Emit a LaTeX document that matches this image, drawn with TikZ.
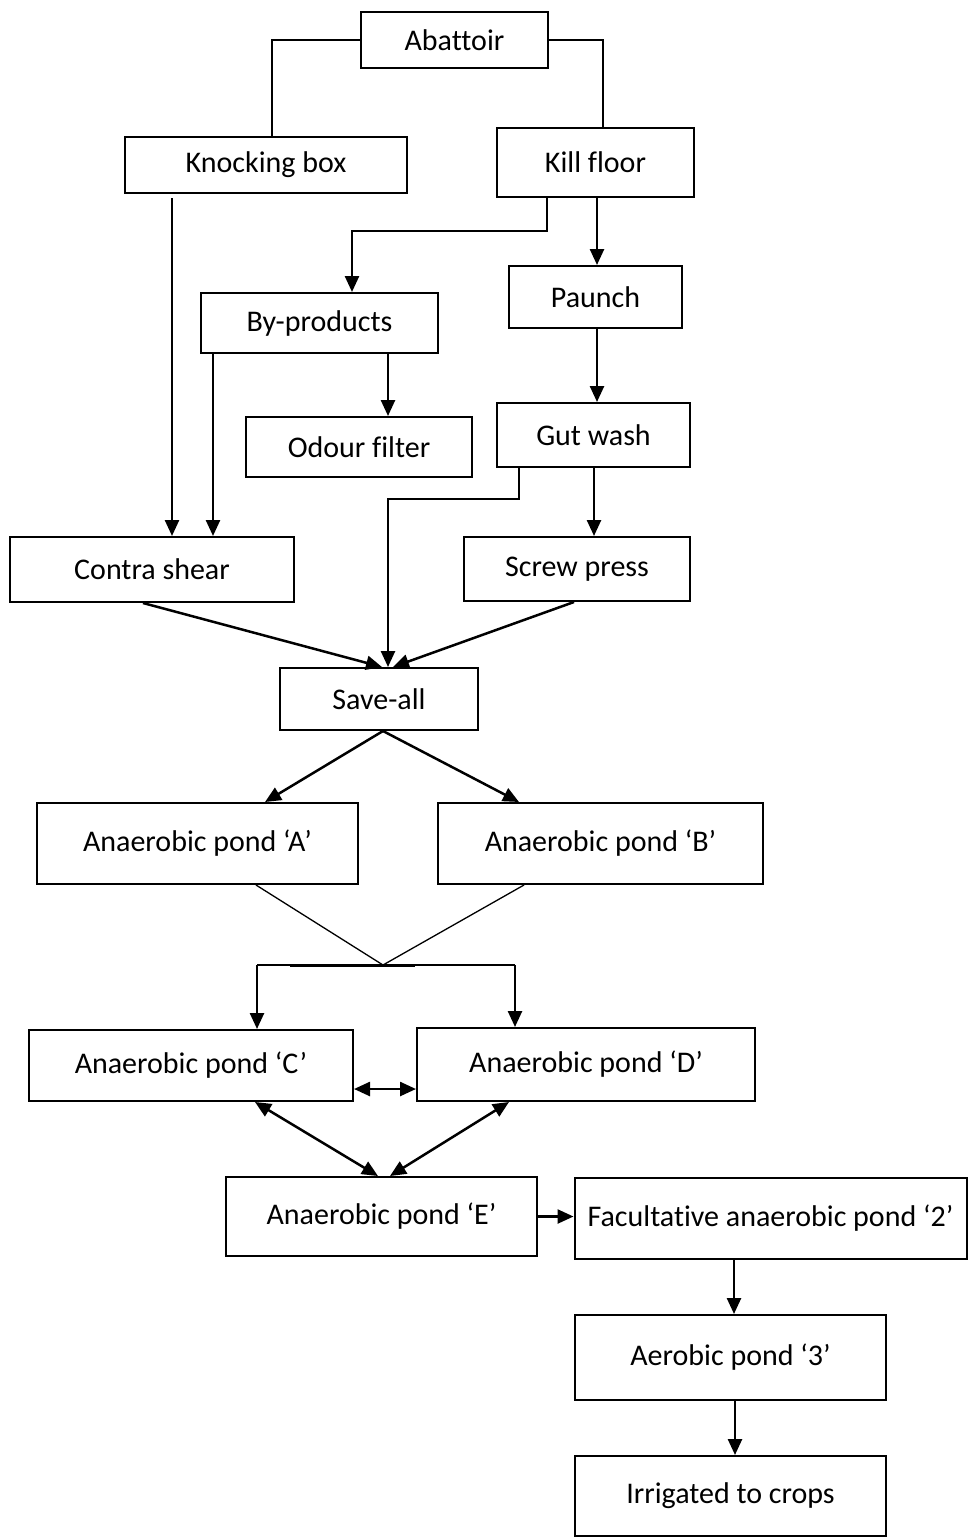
\documentclass[tikz,border=0pt]{standalone}
\usepackage{fontspec}
\setmainfont{Carlito}[Ligatures={NoCommon}]
\usetikzlibrary{arrows.meta}
\begin{document}
\begin{tikzpicture}[x=1pt,y=-1pt,
  box/.style={draw, line width=2pt, inner sep=0pt, font=\fontsize{30}{35}\selectfont, align=center},
  arr/.style={line width=2.5pt, -{Triangle[length=16pt,width=14pt]}},
  arrb/.style={line width=2.5pt, {Triangle[length=16pt,width=14pt]}-{Triangle[length=16pt,width=14pt]}},
  ln/.style={line width=2pt},
  thin/.style={line width=1.3pt}]
\useasboundingbox (0,0) rectangle (968,1537);
\node[box, minimum width=187pt, minimum height=56pt] (abattoir) at (454.5,40) {Abattoir};
\node[box, minimum width=282pt, minimum height=56pt] (knock) at (266,165) {Knocking box};
\node[box, minimum width=197pt, minimum height=69pt] (kill) at (595.5,162.5) {Kill floor};
\node[box, minimum width=173pt, minimum height=62pt] (paunch) at (595.5,297) {Paunch};
\node[box, minimum width=237pt, minimum height=60pt] (byprod) at (319.5,323) {By-products};
\node[box, minimum width=226pt, minimum height=60pt] (odour) at (359,447) {Odour filter};
\node[box, minimum width=193pt, minimum height=64pt] (gut) at (593.5,435) {Gut wash};
\node[box, minimum width=284pt, minimum height=65pt] (contra) at (152,569.5) {Contra shear};
\node[box, minimum width=226pt, minimum height=64pt] (screw) at (577,569) {Screw press};
\node[box, minimum width=198pt, minimum height=62pt] (saveall) at (379,699) {Save-all};
\node[box, minimum width=321pt, minimum height=81pt] (pa) at (197.5,843.5) {Anaerobic pond ‘A’};
\node[box, minimum width=325pt, minimum height=81pt] (pb) at (600.5,843.5) {Anaerobic pond ‘B’};
\node[box, minimum width=324pt, minimum height=71pt] (pc) at (191,1065.5) {Anaerobic pond ‘C’};
\node[box, minimum width=338pt, minimum height=73pt] (pd) at (586,1064.5) {Anaerobic pond ‘D’};
\node[box, minimum width=311pt, minimum height=79pt] (pe) at (381.5,1216.5) {Anaerobic pond ‘E’};
\node[box, minimum width=392pt, minimum height=81pt] (pf) at (770.5,1218.5) {Facultative anaerobic pond ‘2’};
\node[box, minimum width=311pt, minimum height=85pt] (p3) at (730.5,1357.5) {Aerobic pond ‘3’};
\node[box, minimum width=311pt, minimum height=80pt] (irr) at (730.5,1496) {Irrigated to crops};
% connectors
\draw[ln] (abattoir.west) -| ([xshift=6pt]knock.north);
\draw[ln] (abattoir.east) -| ([xshift=7.5pt]kill.north);
\draw[arr] ([xshift=-48.5pt]kill.south) -- ++(0,33) -| ([xshift=32.5pt]byprod.north);
\draw[arr] ([xshift=1.5pt]kill.south) -- ([xshift=1.5pt]paunch.north);
\draw[arr] ([xshift=68.5pt]byprod.south) -- ([xshift=29pt]odour.north);
\draw[arr] ([xshift=1.5pt]paunch.south) -- ([xshift=3.5pt]gut.north);
\draw[arr] ([xshift=-94pt,yshift=-4pt]knock.south) -- ([xshift=20pt]contra.north);
\draw[arr] ([xshift=-106.5pt]byprod.south) -- ([xshift=61pt]contra.north);
\draw[arr] ([xshift=0.5pt]gut.south) -- ([xshift=17pt]screw.north);
\draw[arr] ([xshift=-74.5pt]gut.south) -- ++(0,31) -| ([xshift=9pt]saveall.north);
\draw[arr] ([xshift=-9pt]contra.south) -- ([xshift=3pt]saveall.north);
\draw[arr] ([xshift=-3pt]screw.south) -- ([xshift=14pt]saveall.north);
\draw[arr] ([xshift=4pt]saveall.south) -- ([xshift=67.5pt]pa.north);
\draw[arr] ([xshift=4pt]saveall.south) -- ([xshift=-81.5pt]pb.north);
\coordinate (junc) at (383,965);
\coordinate (jl) at (257,965);
\coordinate (jr) at (515,965);
\draw[thin] ([xshift=58.5pt]pa.south) -- (junc);
\draw[thin] ([xshift=-76.5pt]pb.south) -- (junc);
\draw[ln] (jl) -- (jr);
\draw[line width=3pt] (290,965) -- (415,965);
\draw[arr] (jl) -- (jl |- pc.north);
\draw[arr] (jr) -- (jr |- pd.north);
\draw[arrb] ([yshift=-23.5pt]pc.east) -- ([yshift=-24.5pt]pd.west);
\draw[arrb] ([xshift=64pt]pc.south) -- ([xshift=-3.5pt]pe.north);
\draw[arrb] ([xshift=-77pt]pd.south) -- ([xshift=8.5pt]pe.north);
\draw[arr] (pe.east) -- (pe.east -| pf.west);
\draw[arr] ([xshift=-36.5pt]pf.south) -- ([xshift=3.5pt]p3.north);
\draw[arr] ([xshift=4.5pt]p3.south) -- ([xshift=4.5pt]irr.north);
\end{tikzpicture}
\end{document}
